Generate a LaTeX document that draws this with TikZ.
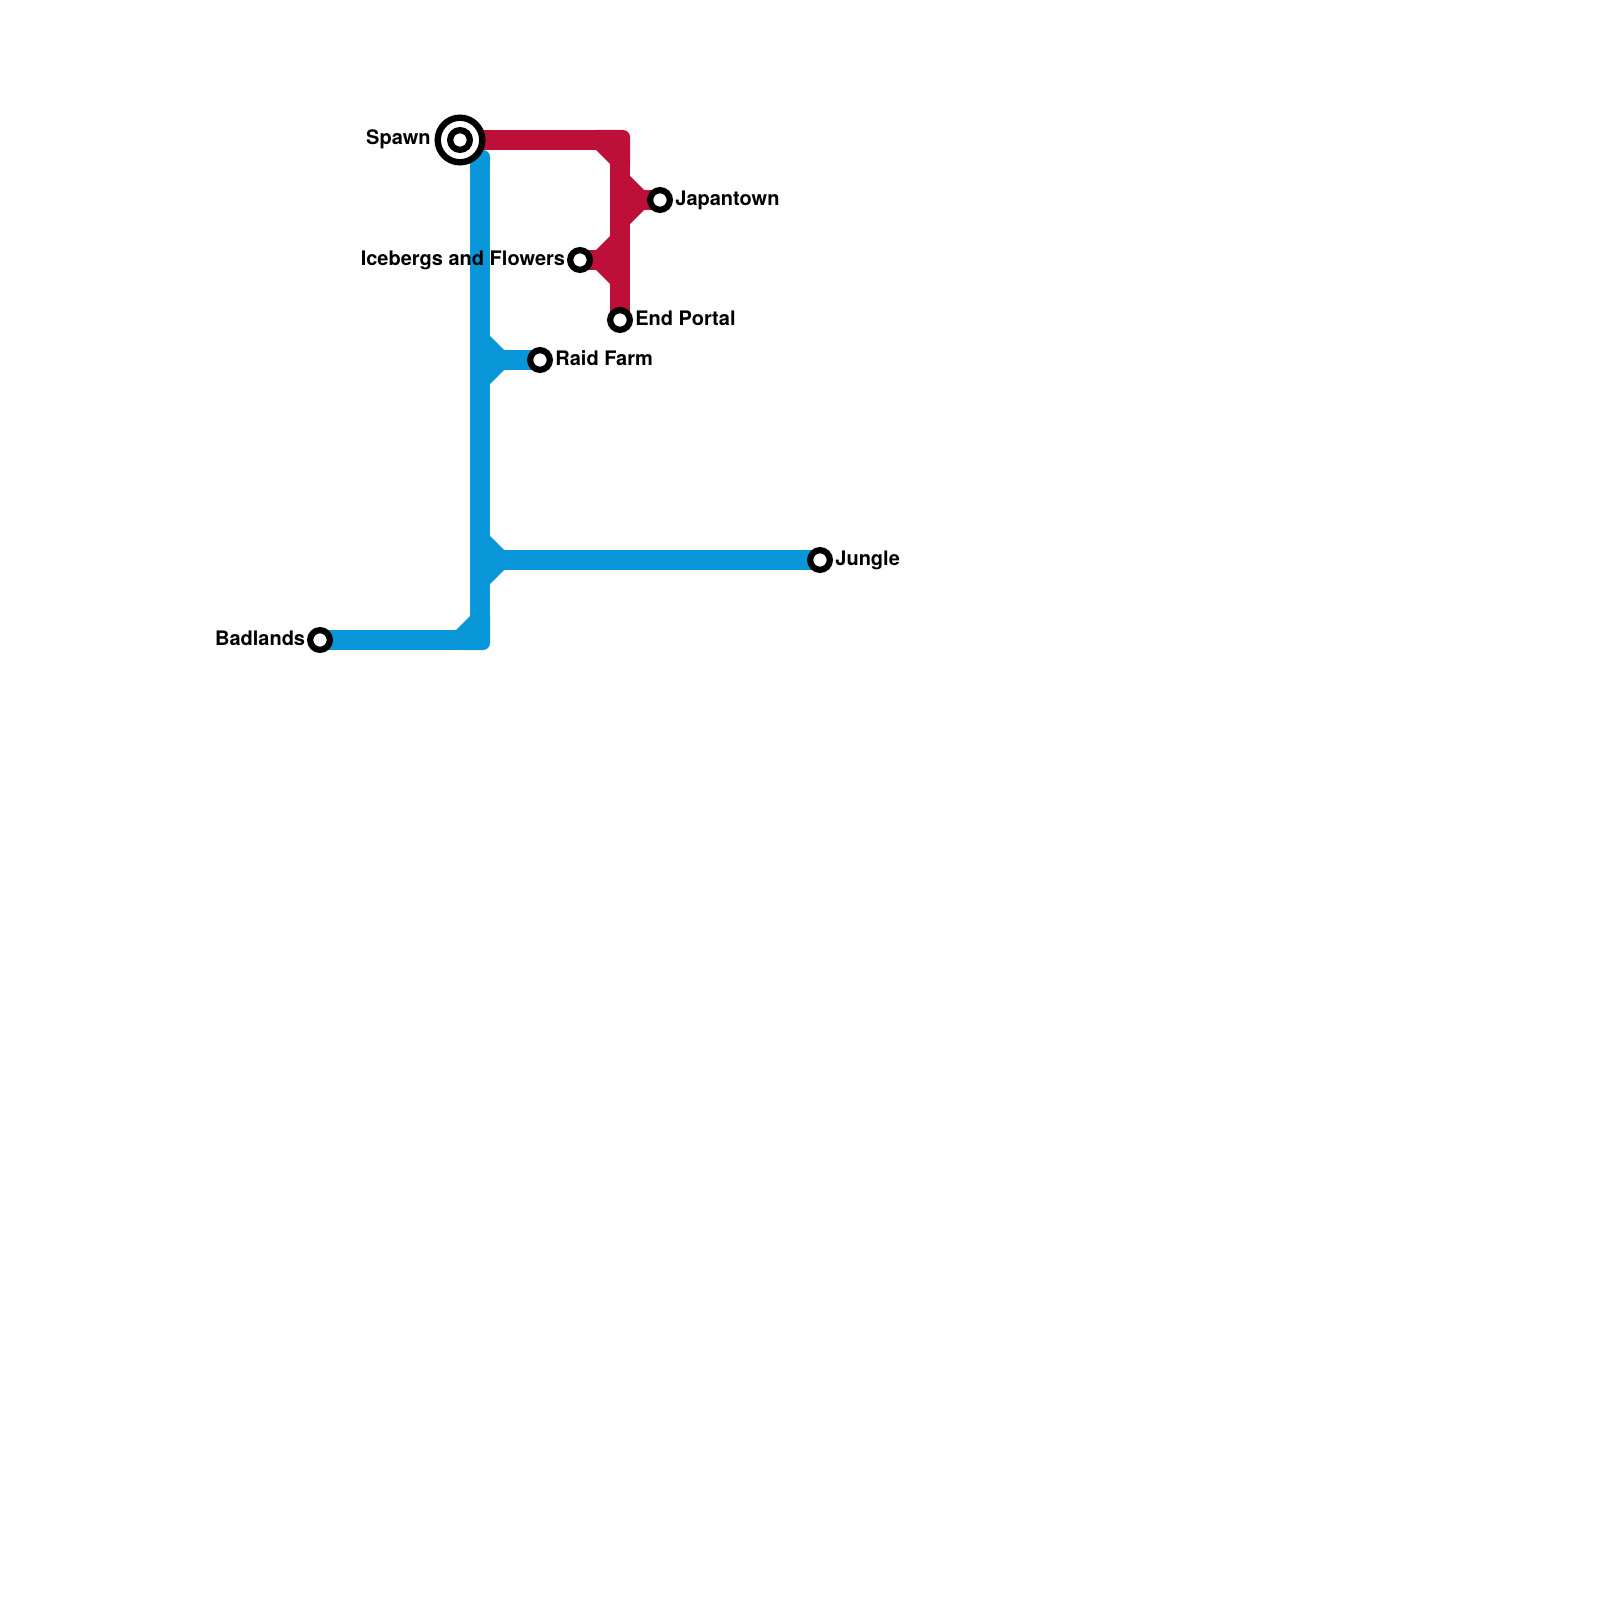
\documentclass[tikz,border=0pt]{standalone}
\usepackage{fontspec}
\setmainfont{TeX Gyre Heros}
\usetikzlibrary{backgrounds}
\definecolor{lineblue}{HTML}{0A97D9}
\definecolor{linered}{HTML}{BD1038}
\tikzset{
  station/.style={circle, draw=black, fill=white, line width=3.1pt, minimum size=9.85pt, inner sep=0pt},
  bigstation/.style={circle, draw=black, fill=white, line width=3.2pt, minimum size=22.3pt, inner sep=0pt},
  stationlabel/.style={font=\bfseries\fontsize{10}{12}\selectfont, inner sep=0pt},
  metroline/.style={line width=10pt},
}
\begin{document}
\begin{tikzpicture}[x=0.5pt, y=-0.5pt]
  \useasboundingbox (0, 0) rectangle (1600, 1600);
  % Stationen
  \node[bigstation] (spawnring) at (460, 140) {};
  \node[station] (spawn) at (460, 140) {};
  \node[station] (japantown) at (660, 200) {};
  \node[station] (icebergs) at (580, 260) {};
  \node[station] (endportal) at (620, 320) {};
  \node[station] (raidfarm) at (540, 360) {};
  \node[station] (jungle) at (820, 560) {};
  \node[station] (badlands) at (320, 640) {};
  % Ecken und Abzweige
  \coordinate (redcorner) at (620, 140);
  \coordinate (redjapan) at (620, 200);
  \coordinate (rediceberg) at (620, 260);
  \coordinate (bluetop) at (480, 158);
  \coordinate (bluecorner) at (480, 640);
  \coordinate (blueraid) at (480, 360);
  \coordinate (bluejungle) at (480, 560);
  \begin{scope}[on background layer]
    % rote Linie
    \draw[linered, metroline] (spawnring.center) -- (redcorner);
    \draw[linered, metroline] (redcorner) -- (endportal.center);
    \draw[linered, metroline] (redjapan) -- (japantown.center);
    \draw[linered, metroline] (rediceberg) -- (icebergs.center);
    \fill[linered] (596, 130) [rounded corners=3.5pt] -- (630, 130) [sharp corners] -- (630, 164) -- (610, 164) -- (596, 150) -- cycle;
    \fill[linered] (620, 176) -- (630, 176) -- (644, 190) -- (644, 210) -- (630, 224) -- (620, 224) -- cycle;
    \fill[linered] (620, 236) -- (610, 236) -- (596, 250) -- (596, 270) -- (610, 284) -- (620, 284) -- cycle;
    % blaue Linie
    \draw[lineblue, metroline] (bluetop) -- (bluecorner);
    \draw[lineblue, metroline] (badlands.center) -- (bluecorner);
    \draw[lineblue, metroline] (blueraid) -- (raidfarm.center);
    \draw[lineblue, metroline] (bluejungle) -- (jungle.center);
    \fill[lineblue, rounded corners=3.5pt] (470, 150) rectangle (490, 170);
    \fill[lineblue] (456, 630) -- (470, 616) -- (490, 616) [rounded corners=3.5pt] -- (490, 650) -- (456, 650) [sharp corners] -- cycle;
    \foreach \y in {360, 560}{
      \fill[lineblue] (480, \y-24) -- (490, \y-24) -- (504, \y-10) -- (504, \y+10) -- (490, \y+24) -- (480, \y+24) -- cycle;
    }
  \end{scope}
  % Beschriftung
  \node[stationlabel, anchor=base east] (spawnlabel) at (431, 145) {Spawn};
  \node[stationlabel, anchor=base west] (japantownlabel) at (675, 205) {Japantown};
  \node[stationlabel, anchor=base east] (icebergslabel) at (565.5, 265) {Icebergs and Flowers};
  \node[stationlabel, anchor=base west] (endportallabel) at (635, 325) {End Portal};
  \node[stationlabel, anchor=base west] (raidfarmlabel) at (555, 365) {Raid Farm};
  \node[stationlabel, anchor=base west] (junglelabel) at (835, 565) {Jungle};
  \node[stationlabel, anchor=base east] (badlandslabel) at (305.5, 645) {Badlands};
\end{tikzpicture}
\end{document}
